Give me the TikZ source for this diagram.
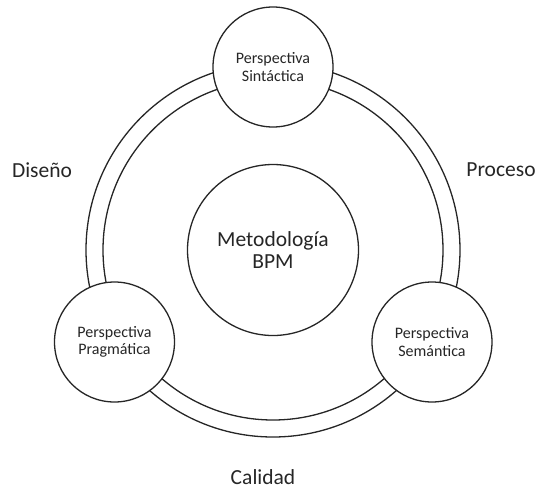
\documentclass[tikz,border=0pt]{standalone}
\usepackage{fontspec}
\setmainfont{Carlito}
\begin{document}
\begin{tikzpicture}[x=1pt,y=-1pt,
  ringline/.style={draw=black!85, line width=1.3pt},
  persp/.style={circle, draw=black!85, line width=1.3pt, fill=white,
    minimum size=120pt, inner sep=0pt, align=center, text=black!85,
    font=\fontsize{16}{17.6}\selectfont},
  core/.style={circle, draw=black!85, line width=1.3pt, fill=white,
    minimum size=171pt, inner sep=0pt, align=center, text=black!85,
    font=\fontsize{21.5}{22.7}\selectfont},
  axis/.style={text=black!85, inner sep=0pt, font=\fontsize{21.5}{22.7}\selectfont}]
  \useasboundingbox (0,0) rectangle (538,491);
  \fill[white] (0,0) rectangle (538,491);
  \coordinate (c) at (273,250);
  % double ring around the methodology
  \draw[ringline] (c) circle[radius=187];
  \draw[ringline] (c) circle[radius=170];
  % centre and the three perspectives
  \node[core] (bpm) at (c) {Metodología\\BPM};
  \node[persp] (sin) at (273,67) {Perspectiva\\Sintáctica};
  \node[persp] (pra) at (114.5,342) {Perspectiva\\Pragmática};
  \node[persp] (sem) at (432,342) {Perspectiva\\Semántica};
  % outer labels
  \node[axis] (dis) at (42,170) {Diseño};
  \node[axis] (pro) at (501,170) {Proceso};
  \node[axis] (cal) at (263,477) {Calidad};
\end{tikzpicture}
\end{document}
